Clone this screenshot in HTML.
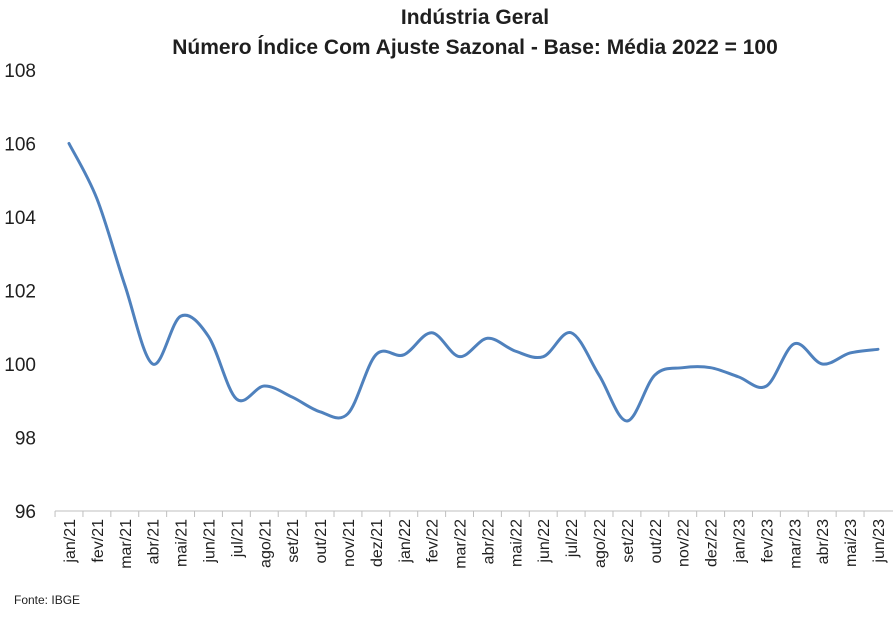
<!DOCTYPE html>
<html><head><meta charset="utf-8">
<style>
html,body{margin:0;padding:0;background:#fff;}
body{width:893px;height:615px;overflow:hidden;font-family:"Liberation Sans",sans-serif;}
</style></head>
<body>
<svg id="chart" width="893" height="615" xmlns="http://www.w3.org/2000/svg">
  <text x="475" y="24" text-anchor="middle" font-size="21" font-weight="bold" fill="#1f1f1f">Indústria Geral</text>
  <text x="475" y="54" text-anchor="middle" font-size="21" font-weight="bold" fill="#1f1f1f">Número Índice Com Ajuste Sazonal - Base: Média 2022 = 100</text>
  <g id="yaxis"></g>
  <g id="xaxis"></g>
  <g id="series"></g>
  <text x="14" y="604" font-size="12" fill="#1f1f1f">Fonte: IBGE</text>
</svg>
<script>
const categories = ["jan/21","fev/21","mar/21","abr/21","mai/21","jun/21","jul/21","ago/21","set/21","out/21","nov/21","dez/21","jan/22","fev/22","mar/22","abr/22","mai/22","jun/22","jul/22","ago/22","set/22","out/22","nov/22","dez/22","jan/23","fev/23","mar/23","abr/23","mai/23","jun/23"];
const values = [106.0,104.5,102.15,100.0,101.3,100.75,99.05,99.4,99.1,98.7,98.65,100.25,100.25,100.85,100.2,100.7,100.35,100.2,100.85,99.7,98.45,99.7,99.9,99.9,99.65,99.4,100.55,100.0,100.3,100.4];
const yTicks = [96,98,100,102,104,106,108];

const NS="http://www.w3.org/2000/svg";
const yMin=96,yMax=108,yTop=70,yBot=511;
const x0=69,x1=878;
function yScale(v){return yBot-(v-yMin)/(yMax-yMin)*(yBot-yTop);}
function xScale(i){return x0+i*(x1-x0)/(categories.length-1);}
const step=(x1-x0)/(categories.length-1);

const ya=document.getElementById('yaxis');
yTicks.forEach(t=>{
  const tx=document.createElementNS(NS,'text');
  
  
  tx.setAttribute('x',36);tx.setAttribute('y',yScale(t)+7);
  tx.setAttribute('text-anchor','end');tx.setAttribute('font-size','19');tx.setAttribute('fill','#1f1f1f');
  tx.textContent=t;ya.appendChild(tx);
});

const xa=document.getElementById('xaxis');
const axl=document.createElementNS(NS,'line');


axl.setAttribute('x1',x0-step/2);axl.setAttribute('x2',893);
axl.setAttribute('y1',yBot);axl.setAttribute('y2',yBot);
axl.setAttribute('stroke','#bfbfbf');axl.setAttribute('stroke-width','1');
xa.appendChild(axl);
categories.forEach((c,i)=>{
  const tk=document.createElementNS(NS,'line');
  
  
  const tx0=xScale(i)-step/2;
  tk.setAttribute('x1',tx0);tk.setAttribute('x2',tx0);tk.setAttribute('y1',yBot);tk.setAttribute('y2',yBot+6);
  tk.setAttribute('stroke','#bfbfbf');xa.appendChild(tk);
  const t=document.createElementNS(NS,'text');
  
  
  const x=xScale(i)+6,y=yBot+8;
  t.setAttribute('transform','translate('+x+','+y+') rotate(-90)');
  t.setAttribute('text-anchor','end');t.setAttribute('font-size','16');t.setAttribute('fill','#1f1f1f');
  t.textContent=c;xa.appendChild(t);
});

const pts=values.map((v,i)=>[xScale(i),yScale(v)]);
let d='M'+pts[0][0]+','+pts[0][1];
for(let i=0;i<pts.length-1;i++){
  const p0=pts[Math.max(0,i-1)],p1=pts[i],p2=pts[i+1],p3=pts[Math.min(pts.length-1,i+2)];
  const k=1/6;
  const c1=[p1[0]+(p2[0]-p0[0])*k,p1[1]+(p2[1]-p0[1])*k];
  const c2=[p2[0]-(p3[0]-p1[0])*k,p2[1]-(p3[1]-p1[1])*k];
  d+=' C'+c1[0]+','+c1[1]+' '+c2[0]+','+c2[1]+' '+p2[0]+','+p2[1];
}
const path=document.createElementNS(NS,'path');


path.setAttribute('d',d);path.setAttribute('fill','none');
path.setAttribute('stroke','#4f81bd');path.setAttribute('stroke-width','3');
path.setAttribute('stroke-linejoin','round');path.setAttribute('stroke-linecap','round');
document.getElementById('series').appendChild(path);
</script>
</body></html>
